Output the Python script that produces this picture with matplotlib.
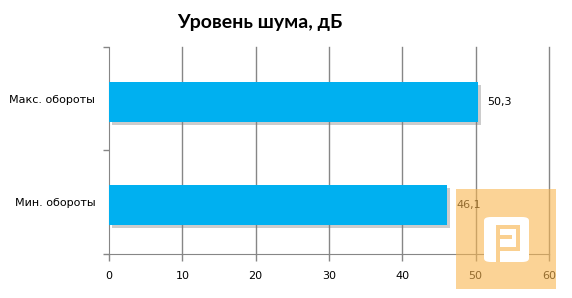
import matplotlib
matplotlib.use('Agg')
import matplotlib.pyplot as plt
import matplotlib.patheffects as pe
import numpy as np
from matplotlib.patches import Rectangle, FancyBboxPatch

categories = ['Мин. обороты', 'Макс. обороты']
values = [46.1, 50.3]
value_labels = ['46,1', '50,3']
xticks = [0, 10, 20, 30, 40, 50, 60]

plt.rcParams['font.family'] = ['DejaVu Sans']

fig = plt.figure(figsize=(5.72, 2.98), dpi=100)
ax = fig.add_axes([0.1906, 0.1477, 0.7692, 0.6946])

pos = np.arange(len(categories)) - 0.03
bars = ax.barh(pos, values, height=0.386, color='#00B0F0', zorder=3)
for b in bars:
    b.set_path_effects([pe.SimplePatchShadow(offset=(2, -2), shadow_rgbFace='#808080', alpha=0.4), pe.Normal()])

for y, v, lab in zip(pos, values, value_labels):
    ax.annotate(lab, (v, y), xytext=(7, 0), textcoords='offset points', va='center', ha='left',
                fontsize=8, color='#000000', zorder=5)

ax.set_xlim(0, 60)
ax.set_ylim(-0.5, len(categories) - 0.5)
ax.set_xticks(xticks)
ax.set_xticklabels([str(t) for t in xticks], fontsize=8)
ax.set_yticks([-0.5, 0.5, 1.5])
ax.set_yticklabels([])
ax.set_yticks(range(len(categories)), minor=True)
ax.set_yticklabels(categories, minor=True, fontsize=8)
ax.tick_params(axis='y', which='minor', length=0, pad=10)
ax.tick_params(axis='y', which='major', length=4, color='#868686', width=1)
ax.tick_params(axis='x', length=5, color='#868686', width=1, pad=7)
for t in xticks[1:]:
    ax.axvline(t, color='#868686', linewidth=1, zorder=0, clip_on=False)
for s in ['top', 'right']:
    ax.spines[s].set_visible(False)
ax.spines['left'].set_color('#868686')
ax.spines['bottom'].set_color('#868686')

fig.text(260 / 572, 0.925, 'Уровень шума, дБ', ha='center', va='center', fontsize=14,
         fontweight='bold', family=['Lato', 'DejaVu Sans'])


# watermark, coordinates in pixels from top-left
def px_rect(x0, y0, x1, y1, **kw):
    return Rectangle((x0 / 572, 1 - y1 / 298), (x1 - x0) / 572, (y1 - y0) / 298,
                     transform=fig.transFigure, edgecolor='none', **kw)


fig.patches.append(px_rect(456, 189, 556, 289, facecolor='#F9B650', alpha=0.6, zorder=10))
fig.patches.append(FancyBboxPatch((484 / 572, 1 - 262 / 298), 45 / 572, 45 / 298, transform=fig.transFigure,
                                  boxstyle='round,pad=0,rounding_size=0.012', facecolor='white',
                                  edgecolor='none', zorder=11))
for r in [(496, 225, 500, 262), (496, 225, 520, 229), (516, 225, 520, 251),
          (500, 235, 512, 239), (500, 247, 520, 251)]:
    fig.patches.append(px_rect(*r, facecolor='#FAD090', zorder=12))

fig.savefig('out.png', dpi=100)
